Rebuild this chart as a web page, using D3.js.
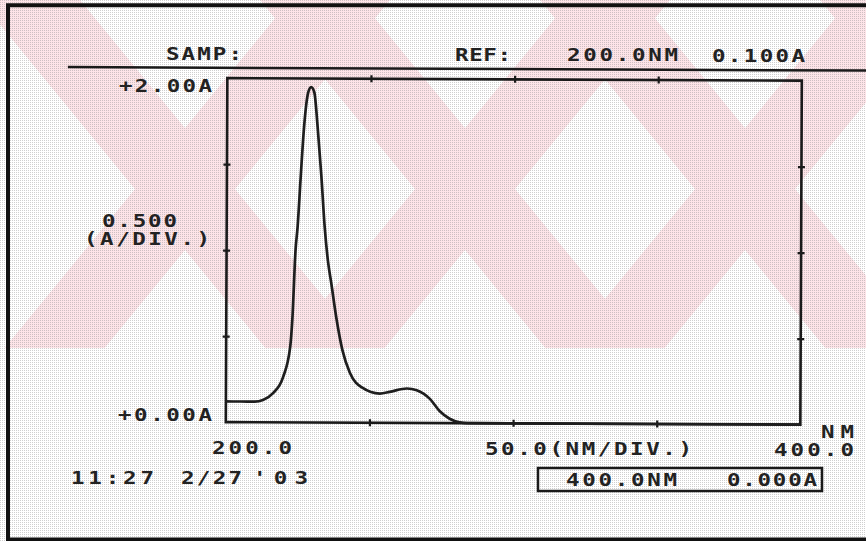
<!DOCTYPE html>
<html>
<head>
<meta charset="utf-8">
<script src="https://cdn.jsdelivr.net/npm/d3@7"></script>
<style>
  html, body { margin: 0; padding: 0; background: #fff; }
  svg { display: block; }
  .lbl {
    font-family: "DejaVu Sans Mono", monospace;
    font-weight: bold;
    font-size: 18px;
    fill: #222;
  }
</style>
</head>
<body>
<div id="chart"></div>
<script>
// wavelength (nm) / absorbance (A)
const wavelength = [200, 205, 210, 212.9, 216.4, 219.8, 222.3, 223.0, 224.0, 224.7, 225.7, 226.8, 228.2, 229.2,
  230.3, 231.5, 232.9, 234.1, 235.3, 236.5, 238.3, 240.5, 243.1, 247.3, 253.6, 257, 263, 266.4,
  271, 274.4, 277.9, 281.4, 284, 300, 350, 400];
const absorbance = [0.12, 0.12, 0.12, 0.13, 0.17, 0.26, 0.44, 0.60, 1.00, 1.14, 1.43, 1.72, 1.92, 1.95,
  1.92, 1.72, 1.43, 1.14, 0.94, 0.81, 0.61, 0.42, 0.29, 0.205, 0.17, 0.18, 0.20, 0.19,
  0.14, 0.07, 0.025, 0.004, 0, 0, 0, 0];

const xDomain = [200, 400];
const yDomain = [0, 2];
const xTicks = [250, 300, 350];
const yTicks = [0.5, 1.0, 1.5];

// printout texts
const headerText = ["SAMP:", "REF:", "200.0NM", "0.100A"];
const yLabelText = ["+2.00A", "0.500", "(A/DIV.)", "+0.00A"];
const xLabelText = ["200.0", "50.0(NM/DIV.)", "400.0", "NM"];
const stampText = ["11:27", "2/27", "'03"];
const cursorText = ["400.0NM", "0.000A"];

(function () {
  const W = 866, H = 541;
  const data = wavelength.map((w, i) => ({ nm: w, a: absorbance[i] }));

  const svg = d3.select("#chart").append("svg")
    .attr("width", W).attr("height", H)
    .attr("viewBox", `0 0 ${W} ${H}`);

  const defs = svg.append("defs");
  const pat = defs.append("pattern")
    .attr("id", "dots").attr("width", 2).attr("height", 2)
    .attr("patternUnits", "userSpaceOnUse");
  pat.append("rect").attr("width", 1).attr("height", 1).attr("fill", "#888");
  defs.append("clipPath").attr("id", "pinkClip")
    .append("rect").attr("x", 0).attr("y", 0).attr("width", W).attr("height", 348);

  svg.append("rect").attr("width", W).attr("height", H).attr("fill", "#fff");

  // pale red watermark bands
  const wm = svg.append("g").attr("clip-path", "url(#pinkClip)").attr("fill", "#fde4e8");
  const bandW = 100, slope = 0.82, hh = 348;
  [30, 310, 590, 870].forEach((a) => {
    wm.append("path").attr("d",
      `M${a - bandW / 2},0 L${a + bandW / 2},0 L${a + bandW / 2 + slope * hh},${hh} L${a - bandW / 2 + slope * hh},${hh}Z`);
  });
  [340, 620, 900, 1180].forEach((b) => {
    wm.append("path").attr("d",
      `M${b - bandW / 2},0 L${b + bandW / 2},0 L${b + bandW / 2 - slope * hh},${hh} L${b - bandW / 2 - slope * hh},${hh}Z`);
  });

  // scan dither
  svg.append("rect").attr("width", W).attr("height", H)
    .attr("fill", "url(#dots)").attr("opacity", 0.4);

  // page border
  svg.append("path")
    .attr("d", "M870,5.3H8V539.5H870")
    .attr("fill", "none").attr("stroke", "#111").attr("stroke-width", 4);

  // plot, slightly rotated like the scan
  const g = svg.append("g").attr("transform", "rotate(0.25,433,270)");

  const x0 = 226.5, x1 = 801, y0 = 79, y1 = 423;
  const x = d3.scaleLinear().domain(xDomain).range([x0, x1]);
  const y = d3.scaleLinear().domain(yDomain).range([y1, y0]);

  g.append("line")
    .attr("x1", 67).attr("x2", 870).attr("y1", 68.7).attr("y2", 68.7)
    .attr("stroke", "#1a1a1a").attr("stroke-width", 2.5);

  g.append("rect")
    .attr("x", x(xDomain[0])).attr("y", y(yDomain[1]))
    .attr("width", x(xDomain[1]) - x(xDomain[0]))
    .attr("height", y(yDomain[0]) - y(yDomain[1]))
    .attr("fill", "none").attr("stroke", "#1a1a1a").attr("stroke-width", 2.6);

  const tk = 3.5;
  const axes = [
    g.append("g").attr("transform", `translate(0,${y1 - tk})`)
      .call(d3.axisBottom(x).tickValues(xTicks).tickSize(tk * 2).tickFormat("")),
    g.append("g").attr("transform", `translate(0,${y0 + tk})`)
      .call(d3.axisTop(x).tickValues(xTicks).tickSize(tk * 2).tickFormat("")),
    g.append("g").attr("transform", `translate(${x0 + tk},0)`)
      .call(d3.axisLeft(y).tickValues(yTicks).tickSize(tk * 2).tickFormat("")),
    g.append("g").attr("transform", `translate(${x1 - tk},0)`)
      .call(d3.axisRight(y).tickValues(yTicks).tickSize(tk * 2).tickFormat(""))
  ];
  axes.forEach((ax) => {
    ax.select(".domain").remove();
    ax.selectAll(".tick line").attr("stroke", "#1a1a1a").attr("stroke-width", 2.2);
  });

  const line = d3.line()
    .x((d) => x(d.nm))
    .y((d) => y(d.a))
    .curve(d3.curveMonotoneX);

  g.append("path")
    .datum(data)
    .attr("d", line)
    .attr("fill", "none")
    .attr("stroke", "#1e1e1e")
    .attr("stroke-width", 2.7)
    .attr("stroke-linejoin", "round");

  // text placed like the printout: start x, end x, baseline
  // glyphs are stretched sideways to look like the wide dot-matrix letters
  const sx = 1.25;
  function label(txt, xs, xe, base) {
    svg.append("text").attr("class", "lbl")
      .attr("transform", `translate(${xs},${base}) scale(${sx},1)`)
      .attr("textLength", (xe - xs) / sx)
      .attr("lengthAdjust", "spacing")
      .text(txt);
  }

  label(headerText[0], 166, 242, 60);
  label(headerText[1], 455, 511, 61);
  label(headerText[2], 567, 678, 61);
  label(headerText[3], 712, 805, 61.5);

  label(yLabelText[0], 119, 212, 92);
  label(yLabelText[1], 102, 177, 227);
  label(yLabelText[2], 84, 210, 245);
  label(yLabelText[3], 118, 212, 421);

  label(xLabelText[0], 212, 292, 454);
  label(xLabelText[1], 485, 692, 455);
  label(xLabelText[2], 774, 854, 456);
  label(xLabelText[3], 821, 854, 438);

  label(stampText[0], 71, 154, 484);
  label(stampText[1], 181, 242, 484);
  label(stampText[2], 253, 308, 484);

  // cursor readout box
  svg.append("rect")
    .attr("x", 538).attr("y", 468)
    .attr("width", 284).attr("height", 23)
    .attr("fill", "none").attr("stroke", "#1a1a1a").attr("stroke-width", 2.5);
  label(cursorText[0], 566, 677, 485.5);
  label(cursorText[1], 727, 817, 486);
})();
</script>
</body>
</html>
